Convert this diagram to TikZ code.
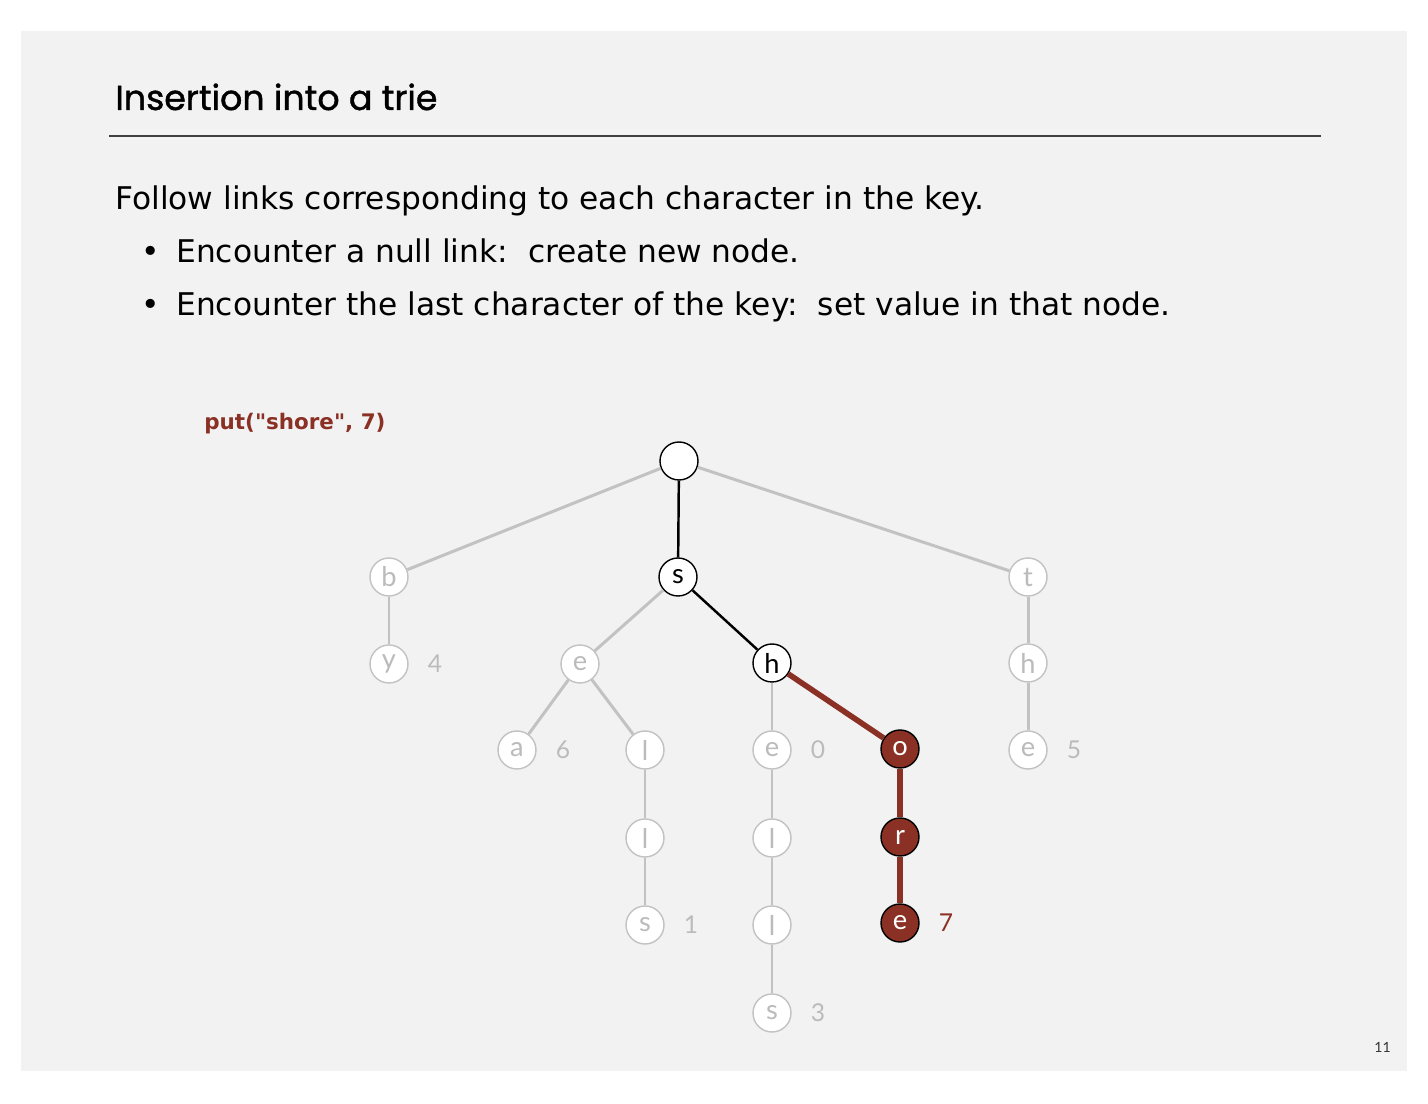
\documentclass[tikz,border=0pt]{standalone}
\usepackage{fontspec}
\setmainfont{DejaVu Sans}
\newfontfamily\titlefont{Poppins}[FakeBold=1.2]
\newfontfamily\nodefont{Lato}
\newfontfamily\callfont{DejaVu Sans}
\definecolor{slidebg}{HTML}{F2F2F2}
\definecolor{trieRed}{HTML}{8B3024}
\definecolor{linkGray}{HTML}{C2C2C2}
\definecolor{keyGray}{HTML}{BBBBBB}
\begin{document}
\begin{tikzpicture}[x=0.02cm, y=-0.02cm,
    trienode/.style={draw=linkGray, circle, fill=white, line width=0.8pt,
      minimum size=0.76cm, inner sep=0pt, text=keyGray,
      font=\nodefont\fontsize{15.5}{15.5}\selectfont},
    pathnode/.style={trienode, draw=black, text=black},
    newnode/.style={trienode, draw=black, fill=trieRed, text=white},
    oldlink/.style={draw=linkGray, line width=1.7pt},
    pathlink/.style={draw=black, line width=1.4pt},
    newlink/.style={draw=trieRed, line width=3.2pt},
    val/.style={text=keyGray, font=\nodefont\fontsize{14}{14}\selectfont},
    newval/.style={val, text=trieRed},
    txt/.style={inner sep=0pt, anchor=base west},
    label distance=0.26cm]

\useasboundingbox (0,0) rectangle (1428,1104);
\fill[slidebg] (21,31) rectangle (1407,1071);

% header
\node[txt, font=\titlefont\fontsize{19.8}{19.8}\selectfont] (title) at (115,110) {Insertion into a trie};
\draw[black!75, line width=0.9pt] (109,136) -- (1321,136);
\node[txt, font=\fontsize{17.8}{17.8}\selectfont] (intro) at (115,210)
  {Follow links corresponding to each character in the key.};
\node[txt, font=\fontsize{17.8}{17.8}\selectfont] (dot1) at (141,263) {\textbullet};
\node[txt, font=\fontsize{17.8}{17.8}\selectfont] (item1) at (176,263)
  {Encounter a null link:\ \ create new node.};
\node[txt, font=\fontsize{17.8}{17.8}\selectfont] (dot2) at (141,316) {\textbullet};
\node[txt, font=\fontsize{17.8}{17.8}\selectfont] (item2) at (176,316)
  {Encounter the last character of the key:\ \ set value in that node.};
\node[txt, text=trieRed, font=\callfont\bfseries\fontsize{12.2}{12.2}\selectfont] (call) at (204,430)
  {put("shore", 7)};

% trie nodes
\node[pathnode] (root) at (679,461) {};
\node[trienode] (b)    at (389,577) {b};
\node[pathnode] (s)    at (678,577) {s};
\node[trienode] (t)    at (1028,577) {t};
\node[trienode, label={[val]right:4}] (by) at (389,664) {y};
\node[trienode] (se)   at (580,664) {e};
\node[pathnode] (sh)   at (772,663) {h};
\node[trienode] (th)   at (1028,663) {h};
\node[trienode, label={[val]right:6}] (sea) at (517,750) {a};
\node[trienode] (sel)  at (645,750) {l};
\node[trienode, label={[val]right:0}] (she) at (772,750) {e};
\node[newnode]  (sho)  at (900,749) {o};
\node[trienode, label={[val]right:5}] (the) at (1028,750) {e};
\node[trienode] (sell) at (645,838) {l};
\node[trienode] (shel) at (772,838) {l};
\node[newnode]  (shor) at (900,837) {r};
\node[trienode, label={[val]right:1}] (sells) at (645,925) {s};
\node[trienode] (shell) at (772,925) {l};
\node[newnode, label={[newval]right:7}] (shore) at (900,923) {e};
\node[trienode, label={[val]right:3}] (shells) at (772,1013) {s};

% links
\draw[oldlink] (root) -- (b);
\draw[oldlink] (root) -- (t);
\draw[oldlink] (b) -- (by);
\draw[oldlink] (t) -- (th);
\draw[oldlink] (th) -- (the);
\draw[oldlink] (s) -- (se);
\draw[oldlink] (se) -- (sea);
\draw[oldlink] (se) -- (sel);
\draw[oldlink] (sel) -- (sell);
\draw[oldlink] (sell) -- (sells);
\draw[oldlink] (sh) -- (she);
\draw[oldlink] (she) -- (shel);
\draw[oldlink] (shel) -- (shell);
\draw[oldlink] (shell) -- (shells);
\draw[pathlink] (root) -- (s);
\draw[pathlink] (s) -- (sh);
\draw[newlink] (sh) -- (sho);
\draw[newlink] (sho) -- (shor);
\draw[newlink] (shor) -- (shore);

\node[txt, text=black!80, font=\nodefont\fontsize{8}{8}\selectfont] (page) at (1374,1052) {11};
\end{tikzpicture}
\end{document}
